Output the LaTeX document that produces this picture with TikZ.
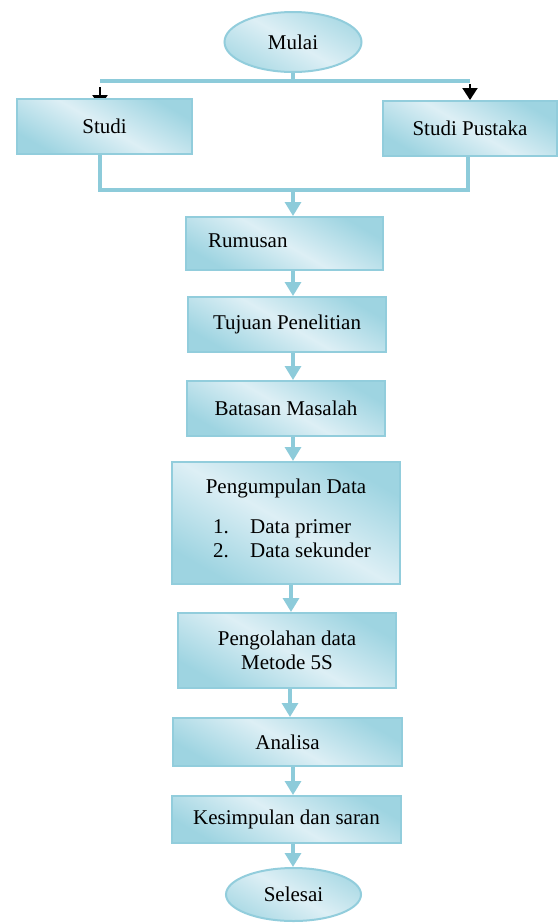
\documentclass[tikz,border=0pt]{standalone}
\usepackage{fontspec}
\setmainfont{Liberation Serif}
\usetikzlibrary{arrows.meta,shapes.geometric,calc}
\pgfdeclarelayer{bg}
\pgfsetlayers{bg,main}
\definecolor{lb}{HTML}{8DCBDA}
\definecolor{bd}{HTML}{92CDDC}
\definecolor{dk}{HTML}{9ED4E1}
\definecolor{lt}{HTML}{DDEFF5}
\begin{document}
\begin{tikzpicture}[x=1pt,y=-1pt,font=\fontsize{21}{24}\selectfont,
  box/.style={draw=bd,line width=2pt,top color=dk,bottom color=dk,middle color=lt,shading angle=-30,inner sep=0pt},
  term/.style={ellipse,draw=bd,line width=2pt,top color=dk!85,bottom color=dk!85,middle color=lt,shading angle=-30,inner sep=0pt},
  conn/.style={lb,line width=3.2pt},
  arr/.style={conn,-{Triangle[width=16pt,length=14pt]}},
  blk/.style={black,line width=2pt,-{Triangle[width=15pt,length=12pt]}}]
\useasboundingbox (0,0) rectangle (558,924);
% nodes
\node[term,minimum width=137pt,minimum height=60pt] (mulai) at (293,42) {Mulai};
\node[box,minimum width=175pt,minimum height=55pt] (studi) at (104.5,126.5) {Studi};
\node[box,minimum width=174pt,minimum height=55pt] (pus) at (470,128.5) {Studi Pustaka};
\node[box,minimum width=197pt,minimum height=53pt] (rum) at (284.5,243.5) {};
\node[anchor=base west,inner sep=0pt] (rumt) at (208,247) {Rumusan};
\node[box,minimum width=198pt,minimum height=55pt] (tuj) at (287,324.5) {Tujuan Penelitian};
\node[box,minimum width=198pt,minimum height=55pt] (bat) at (286,408.5) {Batasan Masalah};
\node[box,minimum width=228pt,minimum height=122pt] (pd) at (286,523) {};
\node[anchor=base,inner sep=0pt] (pdt) at (286,493) {Pengumpulan Data};
\node[anchor=base west,inner sep=0pt] (l1n) at (213,533) {1.};
\node[anchor=base west,inner sep=0pt] (l1t) at (250,533) {Data primer};
\node[anchor=base west,inner sep=0pt] (l2n) at (213,557) {2.};
\node[anchor=base west,inner sep=0pt] (l2t) at (250,557) {Data sekunder};
\node[box,minimum width=218pt,minimum height=75pt,align=center] (po) at (287,650.5) {Pengolahan data\\Metode 5S};
\node[box,minimum width=229pt,minimum height=48pt] (an) at (287.5,742) {Analisa};
\node[box,minimum width=229pt,minimum height=47pt] (ks) at (286.5,819.5) {Kesimpulan dan saran};
\node[term,minimum width=135pt,minimum height=53pt] (sel) at (293.5,894.5) {Selesai};
% coordinates
\coordinate (j1) at (293,81);
\coordinate (jl) at (100,81);
\coordinate (jr) at (470,81);
\coordinate (bl) at (100,190);
\coordinate (br) at (468,190);
\coordinate (m) at (293,190);
\coordinate (ax) at (293,0);
\coordinate (ax2) at (291,0);
\coordinate (ax3) at (290,0);
% connectors
\draw[conn] (mulai.south) -- (j1);
\draw[conn] (jl) -- (jr);
\begin{pgfonlayer}{bg}
\draw[blk] ([yshift=-6pt]jl) -- ([yshift=-9pt]jl |- studi.north);
\end{pgfonlayer}
\draw[blk] ([yshift=-3pt]jr) -- (jr |- pus.north);
\draw[conn] (studi.south -| bl) -- (bl) -- (br) -- (pus.south -| br);
\draw[arr] (m) -- (m |- rum.north);
\draw[arr] (rum.south -| ax) -- (tuj.north -| ax);
\draw[arr] (tuj.south -| ax) -- (bat.north -| ax);
\draw[arr] (bat.south -| ax) -- (pd.north -| ax);
\draw[arr] (pd.south -| ax2) -- (po.north -| ax2);
\draw[arr] (po.south -| ax3) -- (an.north -| ax3);
\draw[arr] (an.south -| ax) -- (ks.north -| ax);
\draw[arr] (ks.south -| ax) -- (sel.north -| ax);
\end{tikzpicture}
\end{document}
